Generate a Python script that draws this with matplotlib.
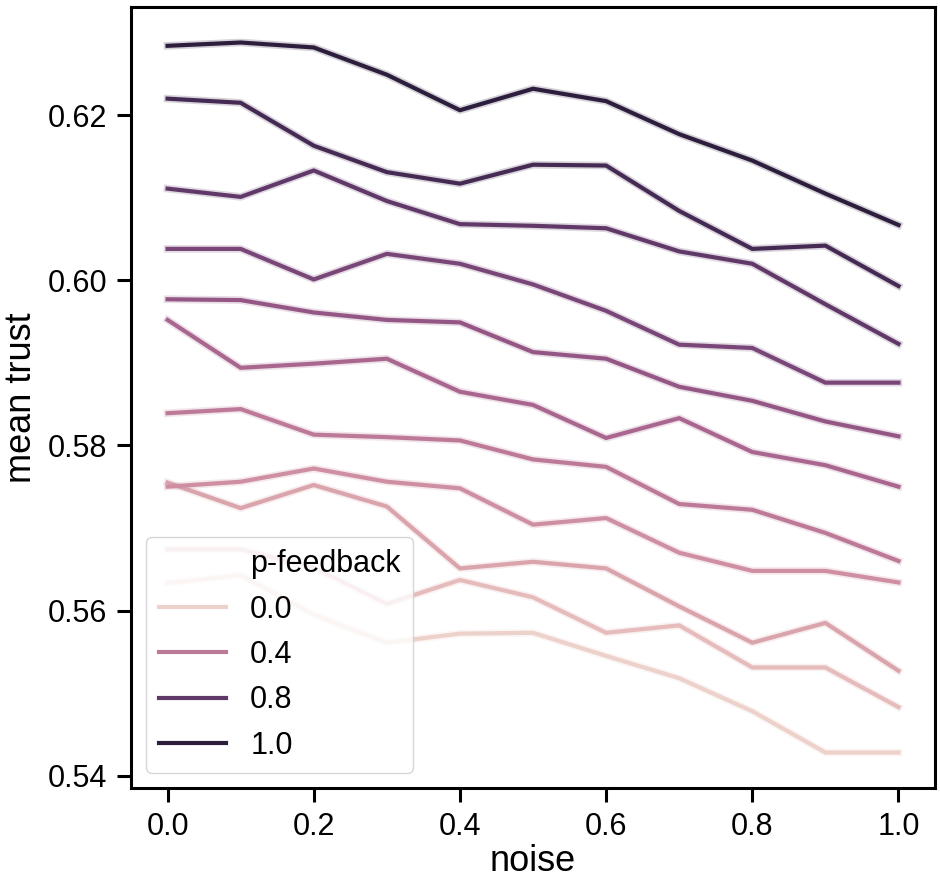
import matplotlib
matplotlib.use("Agg")
import matplotlib.pyplot as plt
import matplotlib.patheffects as pe
from matplotlib.lines import Line2D
import seaborn as sns

noise = [0.0, 0.1, 0.2, 0.3, 0.4, 0.5, 0.6, 0.7, 0.8, 0.9, 1.0]
p_feedback = [0.0, 0.1, 0.2, 0.3, 0.4, 0.5, 0.6, 0.7, 0.8, 0.9, 1.0]

# mean trust per noise level, one list per p-feedback value
trust_00 = [0.5633, 0.5643, 0.5595, 0.5561, 0.5572, 0.5573, 0.5545, 0.5518, 0.5478, 0.5428, 0.5428]
trust_01 = [0.5674, 0.5674, 0.5652, 0.5608, 0.5637, 0.5616, 0.5573, 0.5582, 0.5531, 0.5531, 0.5483]
trust_02 = [0.5755, 0.5724, 0.5752, 0.5726, 0.5651, 0.5659, 0.5651, 0.5605, 0.5561, 0.5585, 0.5527]
trust_03 = [0.5750, 0.5756, 0.5772, 0.5756, 0.5748, 0.5704, 0.5712, 0.5670, 0.5648, 0.5648, 0.5634]
trust_04 = [0.5839, 0.5844, 0.5813, 0.5810, 0.5806, 0.5783, 0.5774, 0.5729, 0.5722, 0.5694, 0.5660]
trust_05 = [0.5952, 0.5894, 0.5899, 0.5905, 0.5865, 0.5849, 0.5809, 0.5833, 0.5792, 0.5776, 0.5750]
trust_06 = [0.5977, 0.5976, 0.5961, 0.5952, 0.5949, 0.5913, 0.5905, 0.5871, 0.5854, 0.5829, 0.5811]
trust_07 = [0.6038, 0.6038, 0.6001, 0.6032, 0.6020, 0.5995, 0.5963, 0.5922, 0.5918, 0.5876, 0.5876]
trust_08 = [0.6111, 0.6101, 0.6133, 0.6096, 0.6068, 0.6066, 0.6063, 0.6035, 0.6020, 0.5971, 0.5923]
trust_09 = [0.6220, 0.6215, 0.6163, 0.6131, 0.6117, 0.6140, 0.6139, 0.6084, 0.6038, 0.6042, 0.5993]
trust_10 = [0.6284, 0.6288, 0.6282, 0.6249, 0.6206, 0.6232, 0.6217, 0.6177, 0.6145, 0.6105, 0.6067]

all_trust = [trust_00, trust_01, trust_02, trust_03, trust_04, trust_05,
             trust_06, trust_07, trust_08, trust_09, trust_10]
legend_levels = [0.0, 0.4, 0.8, 1.0]

plt.rcParams['font.family'] = ['Liberation Sans', 'DejaVu Sans']

cmap = sns.cubehelix_palette(as_cmap=True)
norm = matplotlib.colors.Normalize(vmin=min(p_feedback), vmax=max(p_feedback))

fig = plt.figure(figsize=(9.4, 8.88), dpi=100)
ax = fig.add_axes([0.1394, 0.1126, 0.9947 - 0.1394, 0.9921 - 0.1126])

for p, y in zip(p_feedback, all_trust):
    c = cmap(norm(p))
    ax.plot(noise, y, color=c, lw=3.0,
            path_effects=[pe.Stroke(linewidth=5.5, foreground=c, alpha=0.2), pe.Normal()])

ax.set_xticks([0.0, 0.2, 0.4, 0.6, 0.8, 1.0])
ax.set_yticks([0.54, 0.56, 0.58, 0.60, 0.62])
ax.set_yticklabels(['0.54', '0.56', '0.58', '0.60', '0.62'])
ax.set_xticklabels(['0.0', '0.2', '0.4', '0.6', '0.8', '1.0'])
ax.tick_params(labelsize=22, length=10, width=2.2, pad=7)
for s in ax.spines.values():
    s.set_linewidth(2.2)
ax.set_xlabel('noise', fontsize=26, labelpad=2)
ax.set_ylabel('mean trust', fontsize=26, labelpad=6)

handles = [Line2D([], [], color='none')]
labels = ['p-feedback']
for p in legend_levels:
    handles.append(Line2D([], [], color=cmap(norm(p)), lw=3.0))
    labels.append(f'{p:.1f}')
ax.legend(handles, labels, loc='lower left', fontsize=22, handlelength=2.2)

fig.savefig('out.png', dpi=100)
